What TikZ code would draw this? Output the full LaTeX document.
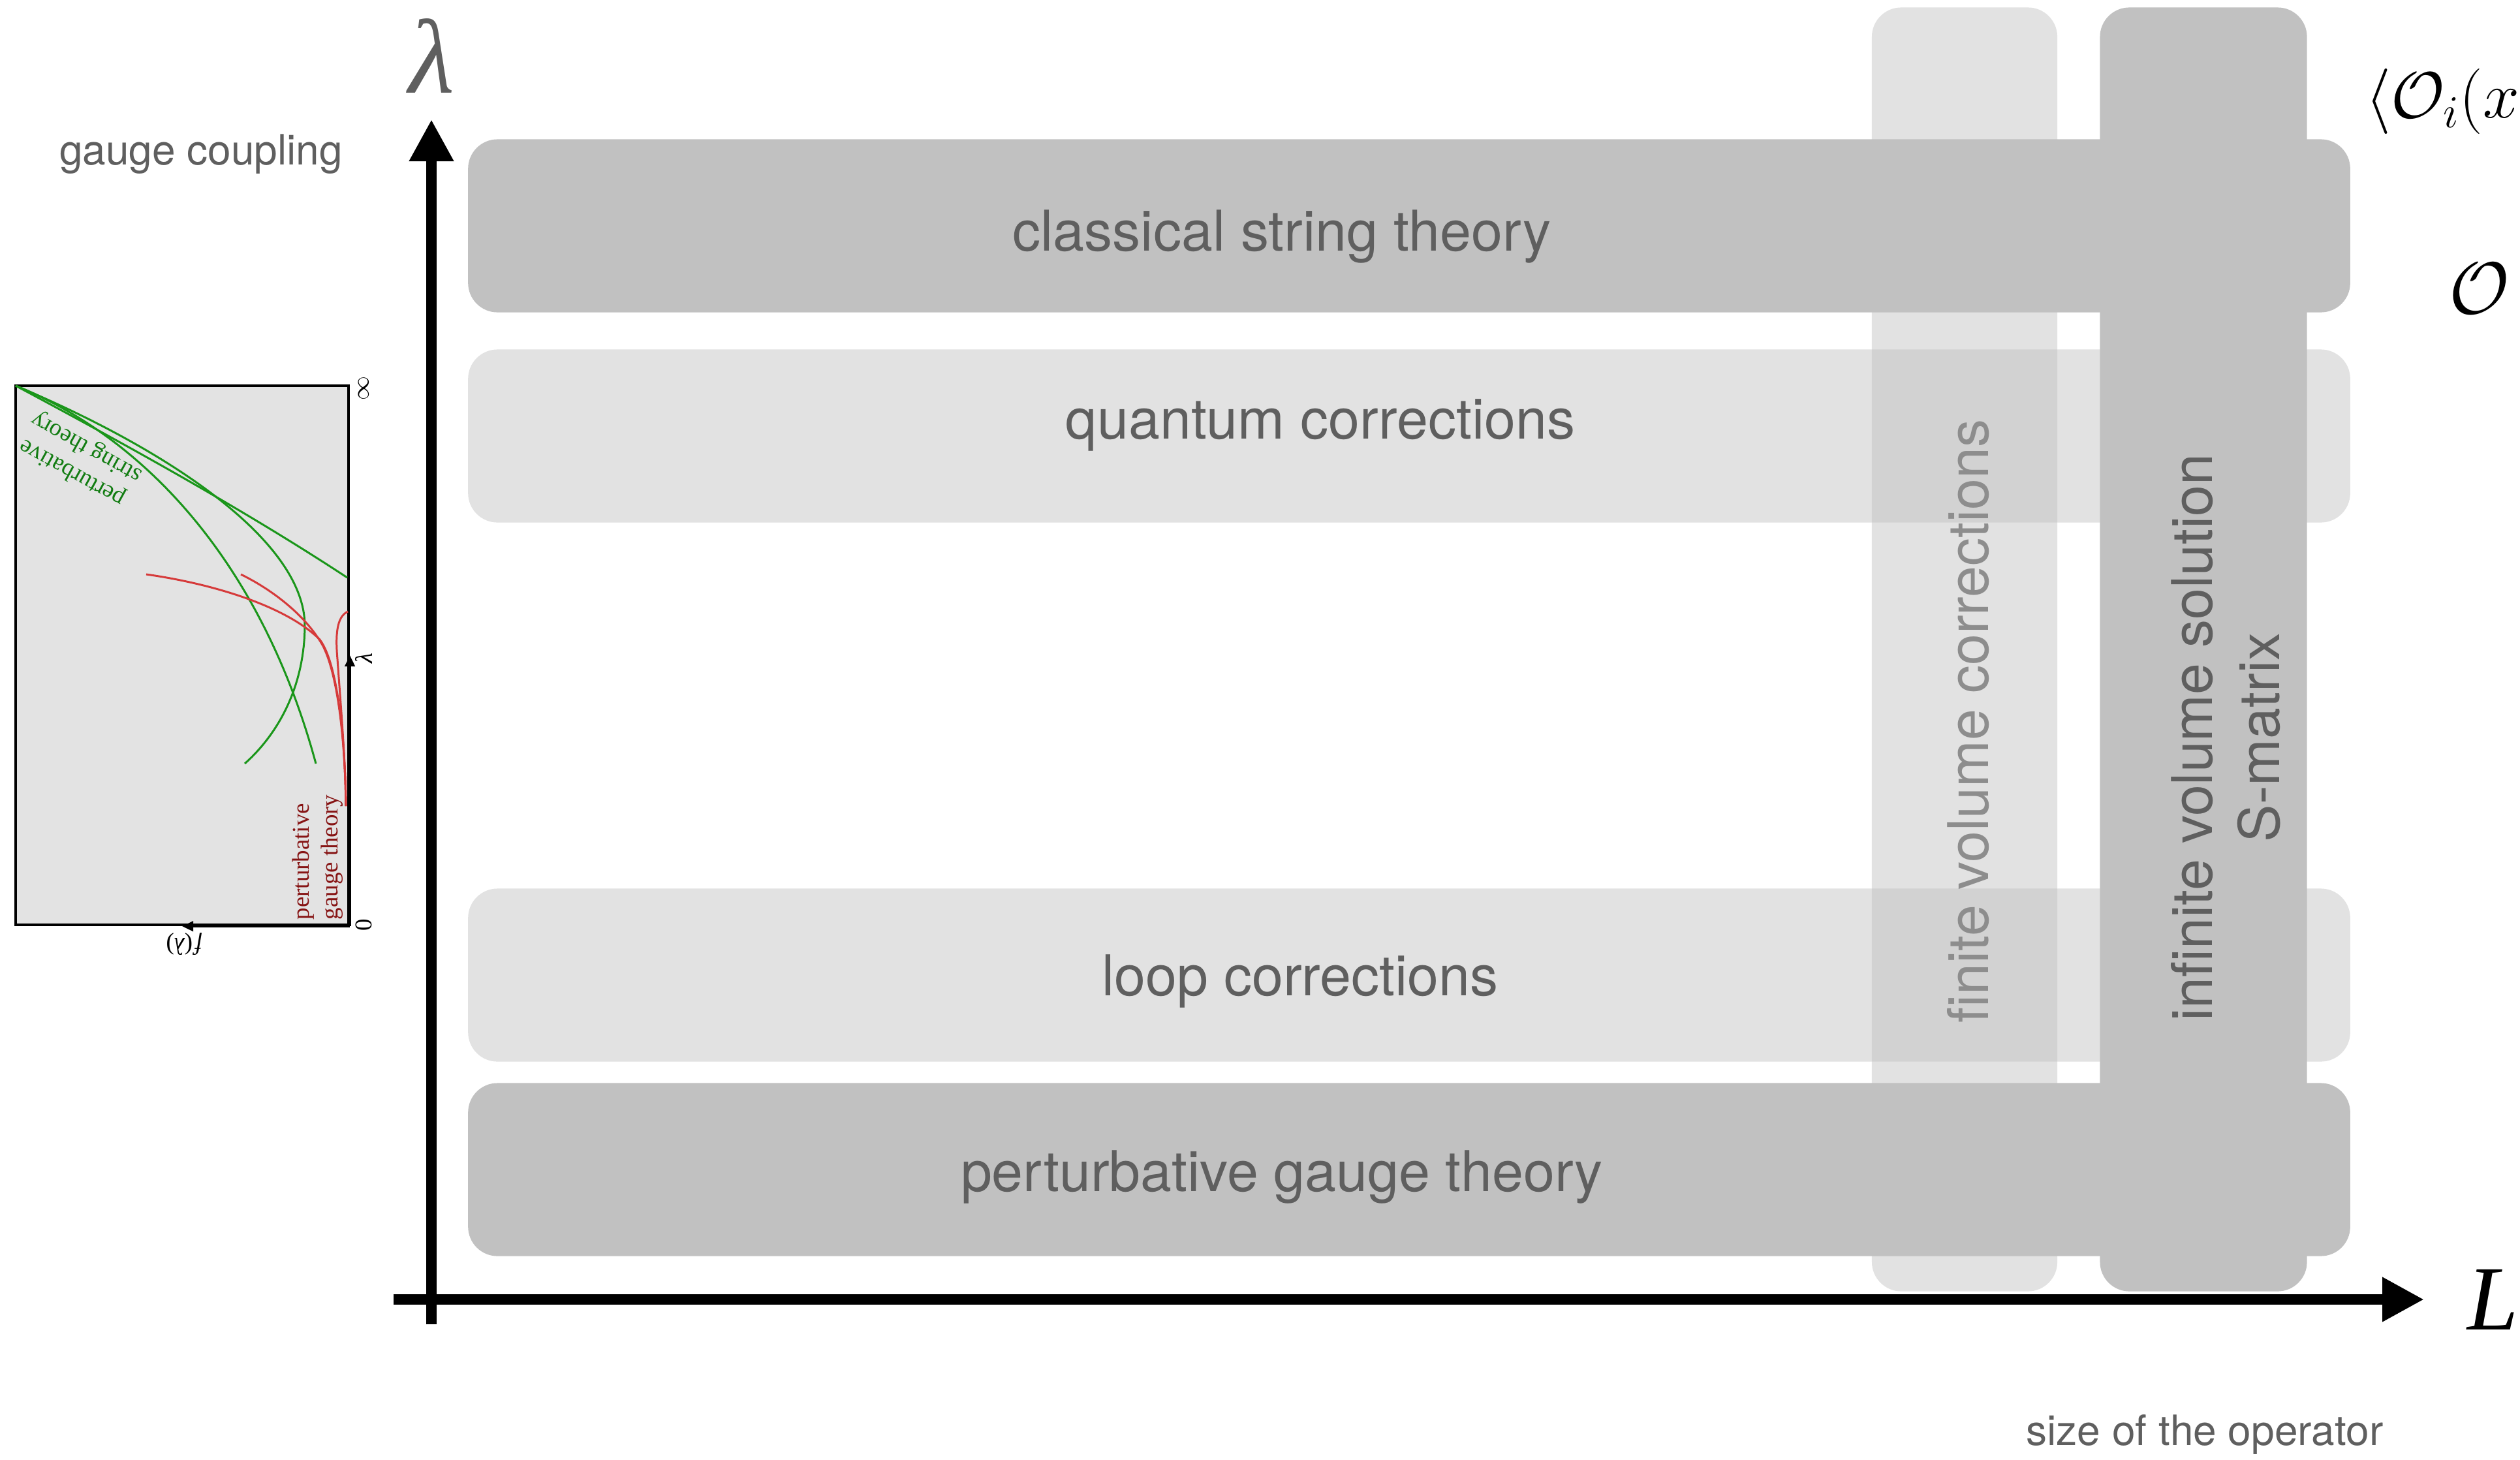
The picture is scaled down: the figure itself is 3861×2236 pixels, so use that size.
\RequirePackage{fix-cm}
\documentclass[tikz,border=0pt]{standalone}
\usepackage[no-math]{fontspec}
\setmainfont{TeX Gyre Heros}
\newfontfamily\timesfont{Liberation Serif}
\usetikzlibrary{arrows.meta, positioning}
\definecolor{bandgray}{HTML}{C1C1C1}
\definecolor{labelgray}{HTML}{5F5F5F}
\definecolor{fadedgray}{HTML}{8D8D8D}
\definecolor{plotbg}{HTML}{E3E3E3}
\definecolor{stringgreen}{HTML}{1A961A}
\definecolor{gaugered}{HTML}{D63A3A}
\definecolor{stringlabel}{HTML}{127C12}
\definecolor{gaugelabel}{HTML}{861414}
\tikzset{
  band/.style={rectangle, rounded corners=0.45cm, inner sep=0pt, fill=bandgray},
  row/.style={band, minimum width=28.82cm, minimum height=2.65cm},
  column/.style={band, minimum height=19.66cm},
  faint/.style={fill opacity=0.47},
  bandlabel/.style={text=labelgray, inner sep=0pt, font=\fontsize{24.5}{29.4}\selectfont},
  sidelabel/.style={text=labelgray, inner sep=0pt, font=\fontsize{18.2}{22}\selectfont},
  axis/.style={line width=0.16cm, -{Triangle[length=0.64cm, width=0.64cm]}},
  plotline/.style={line width=0.85pt},
  plottext/.style={inner sep=0pt, font=\timesfont\fontsize{10.5}{12.6}\selectfont},
  plotaxis/.style={line width=1.1pt, -{Triangle[length=0.17cm, width=0.15cm]}}
}

\begin{document}
\begin{tikzpicture}[x=0.01cm, y=-0.01cm]
    \useasboundingbox (0,0) rectangle (3861,2236);
    \clip (0,0) rectangle (3861,2236);

    % horizontal bands
    \node[row] (classical) at (2159,346) {};
    \node[row, faint] (quantum) at (2159,668) {};
    \node[row, faint] (loop) at (2159,1494) {};
    \node[row] (gauge) at (2159,1792) {};
    % vertical bands
    \node[column, faint, minimum width=2.84cm] (finite) at (3010,995) {};
    \node[column, minimum width=3.17cm] (infinite) at (3376,995) {};

    \node[bandlabel, anchor=base] (classicaltext) at (1964,384) {classical string theory};
    \node[bandlabel, anchor=base] (quantumtext) at (2023,672) {quantum corrections};
    \node[bandlabel, anchor=base] (looptext) at (1992,1525) {loop corrections};
    \node[bandlabel, anchor=base] (gaugetext) at (1964,1825) {perturbative gauge theory};
    \node[bandlabel, text=fadedgray, rotate=90] (finitetext) at (3016,1105) {finite volume corrections};
    \node[bandlabel, rotate=90, align=center] (infinitetext) at (3410,1130) {infinite volume solution\\S-matrix};

    % axes
    \coordinate (yfoot) at (661,2029);
    \coordinate (ytip) at (661,183);
    \coordinate (xfoot) at (603,1991);
    \coordinate (xtip) at (3714,1991);
    \draw[axis] (yfoot) -- (ytip);
    \draw[axis] (xfoot) -- (xtip);

    \node[text=labelgray, inner sep=0pt, anchor=base, font=\timesfont\itshape\fontsize{46}{46}\selectfont] (lambda) at (662,142) {λ};
    \node[inner sep=0pt, anchor=base west, font=\timesfont\itshape\fontsize{40}{40}\selectfont] (size) at (3780,2037) {L};
    \node[sidelabel, anchor=base] (coupling) at (308,252) {gauge coupling};
    \node[sidelabel, anchor=base] (operator) at (3378,2214) {size of the operator};
    \node[inner sep=0pt, anchor=base west, font=\fontsize{28.5}{28.5}\selectfont] (correlator) at (3624,180) {$\langle\mathcal{O}_i(x)\rangle$};
    \node[inner sep=0pt, anchor=base west, font=\fontsize{32}{32}\selectfont] (operatorsym) at (3752,480) {$\mathcal{O}$};

    % inset plot
    \node[draw, line width=1.1pt, fill=plotbg, inner sep=0pt, minimum width=5.10cm, minimum height=8.26cm] (plot) at (279,1004) {};
    \draw[plotline, stringgreen] (24,591) .. controls (200,685) and (380,785) .. (532,885);
    \draw[plotline, stringgreen] (24,591) .. controls (260,690) and (468,830) .. (467,960) .. controls (466,1060) and (420,1130) .. (375,1170);
    \draw[plotline, stringgreen] (24,591) .. controls (220,670) and (400,860) .. (484,1170);
    \draw[plotline, gaugered] (224,880) .. controls (330,895) and (440,930) .. (490,980) .. controls (520,1020) and (529,1150) .. (530,1235);
    \draw[plotline, gaugered] (369,880) .. controls (420,905) and (470,945) .. (495,990) .. controls (520,1040) and (529,1150) .. (530,1235);
    \draw[plotline, gaugered] (533,937) .. controls (515,945) and (514,975) .. (517,1010) .. controls (522,1080) and (529,1160) .. (530,1235);
    \draw[plotaxis] (plot.south east) -- (plot.east);
    \draw[plotaxis] (plot.south east) -- (plot.south);

    \node[plottext, text=stringlabel, rotate=151, align=center] (stringtext) at (122,704) {perturbative\\string theory};
    \node[plottext, text=gaugelabel, rotate=90, align=left, anchor=south west] (gaugeplottext) at (526,1410) {perturbative\\gauge theory};
    \node[plottext, rotate=90] (zero) at (557,1417) {0};
    \node[plottext, rotate=90] (infty) at (557,595) {$\infty$};
    \node[plottext, rotate=90] (plotlambda) at (557,1008) {\itshape λ};
    \node[plottext, rotate=180] (flambda) at (282,1447) {\itshape f\/\upshape(\itshape λ\upshape)};
\end{tikzpicture}
\end{document}
